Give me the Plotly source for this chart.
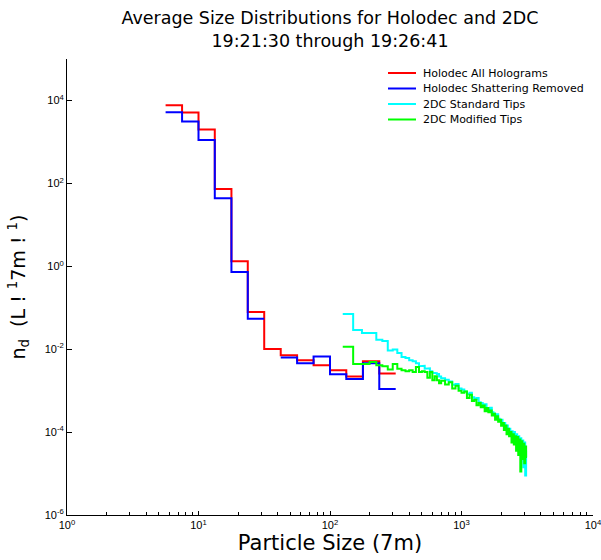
import numpy as np
import plotly.graph_objects as go

# ---------------- data ----------------
# Holodec bin edges (micrometres)
holo_edges = [5.62, 7.50, 10.0, 13.3, 17.8, 23.7, 31.6, 42.2, 56.2, 75.0,
              100.0, 133.0, 178.0, 237.0, 316.0]
holo_all = [7.7e3, 5.1e3, 2.0e3, 73.0, 1.32, 0.079, 0.0101, 0.0071, 0.0054,
            0.0041, 0.0031, 0.0022, 0.0051, 0.0026]
holo_shatter = [5.2e3, 3.1e3, 1.11e3, 43.7, 0.73, 0.054, None, 0.0063, 0.0046,
                0.0067, 0.0025, 0.0019, 0.0046, 0.0011]

# 2DC bin edges (micrometres)
dc_edges = [125, 150, 175, 200, 225, 250, 275, 300, 325, 350, 375, 400, 425,
            450, 475, 500, 525, 550, 575, 600, 625, 650, 675, 700,
            750, 800, 850, 900, 950, 1000, 1050, 1100, 1150, 1200, 1250, 1300,
            1350, 1400, 1450, 1500, 1550, 1600, 1650, 1700, 1750, 1800, 1850,
            1900, 1950, 2000, 2050, 2100, 2150, 2200, 2250, 2300, 2350, 2400,
            2450, 2500, 2550, 2600, 2650, 2700, 2750, 2800, 2850, 2900, 2950,
            3000, 3050, 3100, 3150]
# log10 of n_d
std_log10 = [-1.15, -1.54, -1.61, -1.61, -1.77, -1.80, -2.03, -2.01, -2.09,
             -2.19, -2.21, -2.27, -2.29, -2.34, -2.41, -2.40, -2.47, -2.46,
             -2.53, -2.57, -2.58, -2.60, -2.66,
             -2.70, -2.74, -2.78, -2.86, -2.84, -2.95, -2.97, -3.02, -3.08,
             -3.05, -3.16, -3.20, -3.18, -3.28, -3.30, -3.36, -3.33, -3.42,
             -3.45, -3.41, -3.52, -3.55, -3.60, -3.57, -3.68, -3.72, -3.70,
             -3.80, -3.78, -3.88, -3.84, -3.95, -3.92, -4.02, -3.98, -4.12,
             -4.00, -4.22, -4.05, -4.35, -4.10, -4.45, -4.15, -4.60, -4.20,
             -4.85, -4.25, -5.05, -4.45]
mod_log10 = [-1.94, -2.36, -2.36, -2.31, -2.39, -2.41, -2.49, -2.36, -2.47,
             -2.51, -2.53, -2.51, -2.55, -2.43, -2.55, -2.53, -2.55, -2.69,
             -2.55, -2.75, -2.65, -2.75, -2.82,
             -2.76, -2.85, -2.80, -2.95, -2.88, -3.00, -3.05, -3.02, -3.18,
             -3.10, -3.25, -3.22, -3.35, -3.30, -3.40, -3.36, -3.50, -3.42,
             -3.52, -3.48, -3.60, -3.56, -3.70, -3.62, -3.75, -3.70, -3.85,
             -3.78, -3.95, -3.84, -4.05, -3.92, -4.10, -4.00, -4.25, -4.05,
             -4.30, -4.10, -4.45, -4.12, -4.55, -4.18, -4.95, -4.22, -4.65,
             -4.28, -4.75, -4.35, -4.60]

series_names = ["Holodec All Holograms", "Holodec Shattering Removed",
                "2DC Standard Tips", "2DC Modified Tips"]
series_colors = ["#ff0000", "#0000ff", "#00ffff", "#00ff00"]

title_text = "Average Size Distributions for Holodec and 2DC<br>19:21:30 through 19:26:41"
x_title = "Particle Size (7m)"
y_title = "n<sub>d</sub>  (L ! <sup>1</sup>7m ! <sup>1</sup>)"

x_tick_exp = [0, 1, 2, 3, 4]
y_tick_exp = [-6, -4, -2, 0, 2, 4]


def stairs(edges, vals):
    xs, ys = [], []
    for i, v in enumerate(vals):
        if v is None:
            xs.append(None)
            ys.append(None)
            continue
        xs += [edges[i], edges[i + 1]]
        ys += [v, v]
    return xs, ys


std_vals = list(10 ** np.array(std_log10))
mod_vals = list(10 ** np.array(mod_log10))

all_series = [
    stairs(holo_edges, holo_all),
    stairs(holo_edges, holo_shatter),
    stairs(dc_edges, std_vals),
    stairs(dc_edges, mod_vals),
]

fig = go.Figure()
for (xs, ys), name, col in zip(all_series, series_names, series_colors):
    fig.add_trace(go.Scatter(x=xs, y=ys, mode="lines", name=name,
                             line=dict(color=col, width=2),
                             connectgaps=False, showlegend=False))

# manual legend (compact spacing like the reference)
leg_x0, leg_x1, leg_tx = 388, 416, 421   # pixels
leg_y0, leg_dy = 73, 15.5
W, H = 601, 560
L, R, T, B = 67, 8, 59, 45
pw, ph = W - L - R, H - T - B
for i, (name, col) in enumerate(zip(series_names, series_colors)):
    yp = leg_y0 + i * leg_dy
    yy = (H - B - yp) / ph
    fig.add_shape(type="line", xref="paper", yref="paper",
                  x0=(leg_x0 - L) / pw, x1=(leg_x1 - L) / pw, y0=yy, y1=yy,
                  line=dict(color=col, width=2))
    fig.add_annotation(text=name, xref="paper", yref="paper",
                       x=(leg_tx - L) / pw, y=yy, xanchor="left",
                       yanchor="middle", showarrow=False,
                       font=dict(size=11, family="DejaVu Sans", color="black"))

title_font = "DejaVu Sans, Arial, sans-serif"
tick_font = "Liberation Sans, Arial, sans-serif"
fig.update_layout(
    width=W, height=H,
    margin=dict(l=L, r=R, t=T, b=B, autoexpand=False),
    paper_bgcolor="white", plot_bgcolor="white",
    font=dict(family=tick_font, color="black"),
    title=dict(text=title_text, x=330 / 601, xanchor="center",
               y=1 - 24 / 560, yanchor="top",
               font=dict(size=17.5, family=title_font, color="black")),
    showlegend=False,
)
fig.update_xaxes(
    type="log", range=[0, 4], automargin=False,
    tickmode="array", tickvals=[10 ** e for e in x_tick_exp],
    ticktext=["10<sup>%d</sup>" % e for e in x_tick_exp],
    ticklabeloverflow="allow",
    showline=True, linecolor="black", linewidth=1, mirror=False,
    ticks="inside", ticklen=4, tickcolor="black",
    minor=dict(ticks="inside", ticklen=3, tickcolor="black", showgrid=False,
               tickvals=[m * 10 ** e for e in range(0, 4) for m in range(2, 10)]),
    showgrid=False, zeroline=False,
    tickfont=dict(size=11, color="black"),
    title=dict(text=x_title, font=dict(size=21, family=title_font, color="black"),
               standoff=2),
)
fig.update_yaxes(
    type="log", range=[-6, 5], automargin=False,
    tickmode="array", tickvals=[10 ** e for e in y_tick_exp],
    ticktext=["10<sup>%d</sup>" % e for e in y_tick_exp],
    ticklabeloverflow="allow",
    showline=True, linecolor="black", linewidth=1, mirror=False,
    ticks="inside", ticklen=5, tickcolor="black",
    showgrid=False, zeroline=False,
    tickfont=dict(size=11, color="black"),
    title=dict(text=y_title, font=dict(size=19, family=title_font, color="black"),
               standoff=14),
)

fig.write_html("out.html")
